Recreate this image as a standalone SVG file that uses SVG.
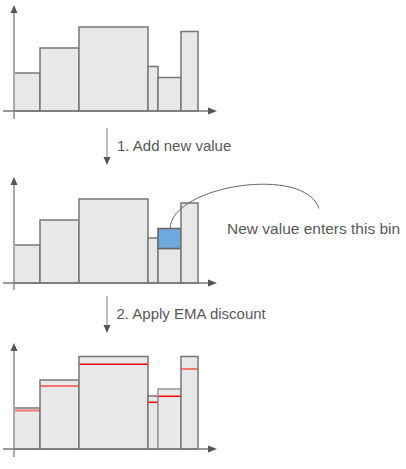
<svg xmlns="http://www.w3.org/2000/svg" width="406" height="469" viewBox="0 0 406 469">
<style>
.bar{fill:#e8e8e8;stroke:#777;stroke-width:1.5}
.new{fill:#6fa8dc;stroke:#666;stroke-width:1.5}
.yax{stroke:#aaa;stroke-width:2;fill:none}
.xax{stroke:#777;stroke-width:1.5;fill:none}
.step{stroke:#aaa;stroke-width:1.5;fill:none}
.red{stroke:#f00;stroke-width:1.5}
.pink{stroke:#f00;stroke-width:2;stroke-opacity:0.5}
.t{font-family:"Liberation Sans",Arial,sans-serif;font-size:15px;fill:#595959}
.head{fill:#555}
</style>
<g id="chart1">
<rect class="bar" x="14" y="73" width="26" height="38"/>
<rect class="bar" x="40" y="48" width="39" height="63"/>
<rect class="bar" x="79" y="27" width="69" height="84"/>
<rect class="bar" x="148" y="66.5" width="10" height="44.5"/>
<rect class="bar" x="158" y="77.5" width="23" height="33.5"/>
<rect class="bar" x="181" y="31.5" width="17" height="79.5"/>
<line class="yax" x1="14" y1="12" x2="14" y2="119"/>
<polygon class="head" points="14,5 10.5,13 17.5,13"/>
<line class="xax" x1="3" y1="111" x2="209" y2="111"/>
<polygon class="head" points="217,111 208,107.5 208,114.5"/>
</g>
<g id="chart2">
<rect class="bar" x="14" y="245" width="26" height="38"/>
<rect class="bar" x="40" y="220" width="39" height="63"/>
<rect class="bar" x="79" y="199" width="69" height="84"/>
<rect class="bar" x="148" y="238" width="10" height="45"/>
<rect class="bar" x="158" y="248.5" width="23" height="34.5"/>
<rect class="new" x="158" y="228.5" width="23" height="20"/>
<rect class="bar" x="181" y="203" width="17" height="80"/>
<line class="yax" x1="14" y1="184" x2="14" y2="290"/>
<polygon class="head" points="14,177 10.5,185 17.5,185"/>
<line class="xax" x1="3" y1="283" x2="209" y2="283"/>
<polygon class="head" points="217,283 208,279.5 208,286.5"/>
</g>
<g id="chart3">
<rect class="bar" x="14" y="408" width="26" height="41"/>
<rect class="bar" x="40" y="380" width="39" height="69"/>
<rect class="bar" x="79" y="356.5" width="69" height="92.5"/>
<rect class="bar" x="148" y="396" width="10" height="53"/>
<rect class="bar" x="158" y="389" width="23" height="60" style="stroke:#999"/>
<rect class="bar" x="181" y="356.5" width="17" height="92.5"/>
<line class="pink" x1="14.5" y1="410.5" x2="39.5" y2="410.5"/>
<line class="pink" x1="40.5" y1="386" x2="78.5" y2="386"/>
<line class="red" x1="79.5" y1="364.3" x2="147.5" y2="364.3"/>
<line class="red" x1="148.5" y1="402.3" x2="157.5" y2="402.3"/>
<line class="red" x1="158.5" y1="396.3" x2="180.5" y2="396.3"/>
<line class="pink" x1="181.5" y1="369" x2="197.5" y2="369"/>
<line class="yax" x1="14" y1="350" x2="14" y2="457"/>
<polygon class="head" points="14,343 10.5,351 17.5,351"/>
<line class="xax" x1="3" y1="449" x2="209" y2="449"/>
<polygon class="head" points="217,449 208,445.5 208,452.5"/>
</g>
<g id="connectors">
<line class="step" x1="107" y1="128" x2="107" y2="158"/>
<polygon class="head" points="107,165 103.5,157 110.5,157"/>
<line class="step" x1="107" y1="296" x2="107" y2="326"/>
<polygon class="head" points="107,333 103.5,325 110.5,325"/>
<path d="M170,228.5 C172,185 305,165 319,208.5" fill="none" stroke="#666" stroke-width="1"/>
</g>
<g id="labels">
<text class="t" x="117" y="150.7">1. Add new value</text>
<text class="t" x="116.5" y="319.3">2. Apply EMA discount</text>
<text class="t" x="227" y="234" style="font-size:15.5px">New value enters this bin</text>
</g>
</svg>
